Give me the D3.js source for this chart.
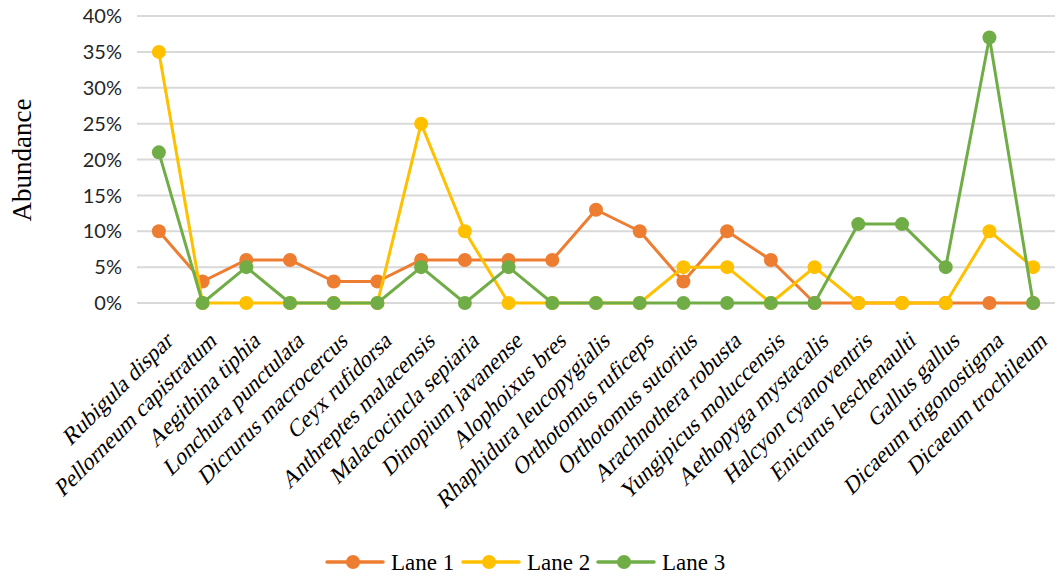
<!DOCTYPE html>
<html><head><meta charset="utf-8">
<script src="https://d3js.org/d3.v7.min.js"></script>
<style>body{margin:0;background:#fff}
.serif{font-family:"Liberation Serif","Times New Roman","DejaVu Serif",serif}</style>
</head><body>
<svg id="c" width="1057" height="578"></svg>
<script>
const categories = ["Rubigula dispar","Pellorneum capistratum","Aegithina tiphia","Lonchura punctulata","Dicrurus macrocercus","Ceyx rufidorsa","Anthreptes malacensis","Malacocincla sepiaria","Dinopium javanense","Alophoixus bres","Rhaphidura leucopygialis","Orthotomus ruficeps","Orthotomus sutorius","Arachnothera robusta","Yungipicus moluccensis","Aethopyga mystacalis","Halcyon cyanoventris","Enicurus leschenaulti","Gallus gallus","Dicaeum trigonostigma","Dicaeum trochileum"];
const lane1 = [10,3,6,6,3,3,6,6,6,6,13,10,3,10,6,0,0,0,0,0,0];
const lane2 = [35,0,0,0,0,0,25,10,0,0,0,0,5,5,0,5,0,0,0,10,5];
const lane3 = [21,0,5,0,0,0,5,0,5,0,0,0,0,0,0,0,11,11,5,37,0];
const seriesNames = ["Lane 1","Lane 2","Lane 3"];
const colors = ["#ED7D31","#FFC000","#70AD47"];
const yTicks = [0,5,10,15,20,25,30,35,40];

const svg = d3.select("#c");
const pL = 137, pR = 1055, pT = 16, pB = 303;
const x = d3.scalePoint().domain(categories).range([pL, pR]).padding(0.5);
const y = d3.scaleLinear().domain([0,40]).range([pB, pT]);

svg.append("g").selectAll("line").data(yTicks).join("line")
  .attr("x1", pL).attr("x2", pR)
  .attr("y1", d=>y(d)).attr("y2", d=>y(d))
  .attr("stroke", "#d9d9d9").attr("stroke-width", 2);

svg.append("g").selectAll("text").data(yTicks).join("text")
  .attr("x", 122).attr("y", d=>y(d)).attr("dy","0.36em")
  .attr("text-anchor","end")
  .style("font-family","Lato, 'Open Sans', sans-serif").style("font-size","20px").attr("fill","#262626")
  .text(d=>d+"%");

svg.append("text").attr("class","serif").attr("transform","translate(31,160) rotate(-90)")
  .attr("text-anchor","middle")
  .style("font-size","27px").attr("fill","#000")
  .text("Abundance");

svg.append("g").selectAll("text").data(categories).join("text")
  .attr("class","serif")
  .attr("transform", d=>`translate(${x(d)+15},${343}) rotate(-45) skewX(-14)`)
  .attr("text-anchor","end")
  .style("font-size","23px").attr("fill","#000")
  .text(d=>d);

const data = [lane1, lane2, lane3];
const line = d3.line().x((d,i)=>x(categories[i])).y(d=>y(d));
data.forEach((s, k) => {
  const g = svg.append("g");
  g.append("path").datum(s).attr("d", line).attr("fill","none")
    .attr("stroke", colors[k]).attr("stroke-width", 3).attr("stroke-linejoin","round");
  g.selectAll("circle").data(s).join("circle")
    .attr("cx",(d,i)=>x(categories[i])).attr("cy", d=>y(d)).attr("r", 7)
    .attr("fill", colors[k]);
});

const legendX = [327, 463, 598];
seriesNames.forEach((n,k)=>{
  const g = svg.append("g").attr("transform",`translate(${legendX[k]},562)`);
  g.append("line").attr("x1",0).attr("x2",56).attr("stroke",colors[k]).attr("stroke-width",3.5).attr("stroke-linecap","round");
  g.append("circle").attr("cx",26).attr("r",7).attr("fill",colors[k]);
  g.append("text").attr("class","serif").attr("x",64).attr("dy","0.35em")
    .style("font-size","23px").attr("fill","#000").text(n);
});
</script>
</body></html>
